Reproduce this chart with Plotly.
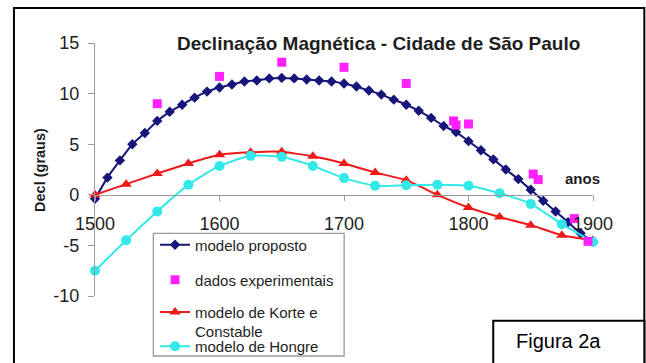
import plotly.graph_objects as go

# ---- data ----
years_model = list(range(1500, 1901, 10))
decl_model = [-0.4, 1.7, 3.4, 5.0, 6.1, 7.3, 8.2, 8.9, 9.6, 10.2,
              10.6, 10.9, 11.2, 11.3, 11.5, 11.55, 11.5, 11.4, 11.3, 11.2,
              11.0, 10.7, 10.3, 9.9, 9.4, 8.9, 8.3, 7.6, 6.8, 6.2,
              5.3, 4.4, 3.5, 2.5, 1.55, 0.5, -0.6, -1.65, -2.7, -3.8, -4.6]

years_exp = [1550, 1600, 1650, 1700, 1750, 1788, 1790, 1800, 1852, 1856, 1885, 1896]
decl_exp = [9.0, 11.7, 13.1, 12.6, 11.0, 7.3, 6.9, 7.0, 2.05, 1.5, -2.35, -4.6]

years_25 = list(range(1500, 1901, 25))
decl_korte = [0.0, 1.05, 2.1, 3.1, 3.95, 4.2, 4.25, 3.8, 3.1, 2.2, 1.45, 0.0,
              -1.25, -2.2, -3.0, -4.0, -4.5]
decl_hongre = [-7.5, -4.5, -1.65, 1.0, 2.85, 3.85, 3.75, 2.85, 1.65, 0.9, 0.95,
               1.0, 0.9, 0.15, -0.9, -2.9, -4.65]

x_ticks = [1500, 1600, 1700, 1800, 1900]
y_ticks = [-10, -5, 0, 5, 10, 15]
y_ticktext = ["-10", "-5", "0", "5", "10", "15"]

FONT = "Liberation Sans, Arial, sans-serif"
TXT = "#1e1e1e"

W, H = 646, 363
# plot area in page pixels
L, R, T, B = 95, 592.7, 43, 296
def px(x):
    return (x - L) / (R - L)
def py(y):
    return (B - y) / (B - T)

fig = go.Figure()
fig.add_trace(go.Scatter(x=years_model, y=decl_model, mode="lines+markers",
                         name="modelo proposto", legend="legend",
                         line=dict(color="#15157a", width=2, shape="spline", smoothing=0.5),
                         marker=dict(symbol="diamond", size=8, color="#15157a"),
                         cliponaxis=False))
fig.add_trace(go.Scatter(x=years_25, y=decl_korte, mode="lines+markers",
                         name="modelo de Korte e<br>Constable", legend="legend3",
                         line=dict(color="#ee1a1a", width=2, shape="spline", smoothing=0.4),
                         marker=dict(symbol="triangle-up", size=10, color="#ee1a1a"),
                         cliponaxis=False))
fig.add_trace(go.Scatter(x=years_25, y=decl_hongre, mode="lines+markers",
                         name="modelo de Hongre", legend="legend4",
                         line=dict(color="#33e8e8", width=2, shape="spline", smoothing=0.6),
                         marker=dict(symbol="circle", size=10, color="#33e8e8"),
                         cliponaxis=False))
fig.add_trace(go.Scatter(x=years_exp, y=decl_exp, mode="markers",
                         name="dados experimentais", legend="legend2",
                         marker=dict(symbol="square", size=9, color="#ff22ff"),
                         cliponaxis=False))

leg_common = dict(xanchor="left", yanchor="middle", bgcolor="rgba(0,0,0,0)",
                  font=dict(family=FONT, size=15, color=TXT), borderwidth=0,
                  itemwidth=30)
lx = px(155)
fig.update_layout(
    legend=dict(x=lx, y=py(245), **leg_common),
    legend2=dict(x=lx, y=py(280), **leg_common),
    legend3=dict(x=lx, y=py(321.7), valign="top", **leg_common),
    legend4=dict(x=lx, y=py(346.5), **leg_common),
)

fig.update_xaxes(range=[1500, 1900], tickvals=x_ticks, anchor="free", position=0.4,
                 showline=True, linecolor="#9a9a9a", linewidth=1.3,
                 ticks="outside", ticklen=5, tickcolor="#9a9a9a",
                 tickfont=dict(family=FONT, size=18, color=TXT),
                 ticklabelstandoff=7, showgrid=False, zeroline=False)
fig.update_yaxes(range=[-10, 15], tickvals=y_ticks, ticktext=y_ticktext,
                 showline=True, linecolor="#9a9a9a", linewidth=1.3,
                 ticks="outside", ticklen=6, tickcolor="#9a9a9a",
                 tickfont=dict(family=FONT, size=18, color=TXT),
                 ticklabelstandoff=5, showgrid=False, zeroline=False)

RIGHT = 644
shapes = [
    # outer frame
    dict(type="rect", xref="paper", yref="paper", x0=px(14), x1=px(RIGHT),
         y0=py(380), y1=py(8), line=dict(color="black", width=2), layer="below"),
    # legend box
    dict(type="rect", xref="paper", yref="paper", x0=px(153.3), x1=px(344),
         y0=py(356), y1=py(233.3), line=dict(color="#9a9a9a", width=1.3),
         fillcolor="white", layer="below"),
    # Figura box
    dict(type="rect", xref="paper", yref="paper", x0=px(493), x1=px(RIGHT),
         y0=py(380), y1=py(320.7), line=dict(color="black", width=2),
         fillcolor="white", layer="above"),
]

annotations = [
    dict(text="<b>Declinação Magnética - Cidade de São Paulo</b>", x=px(378), y=py(44),
         xref="paper", yref="paper", showarrow=False, xanchor="center", yanchor="middle",
         font=dict(family=FONT, size=19, color=TXT)),
    dict(text="<b>Decl (graus)</b>", x=px(40), y=py(170), xref="paper", yref="paper",
         showarrow=False, textangle=-90, xanchor="center", yanchor="middle",
         font=dict(family=FONT, size=14.5, color=TXT)),
    dict(text="<b>anos</b>", x=px(582), y=py(178), xref="paper", yref="paper",
         showarrow=False, xanchor="center", yanchor="middle",
         font=dict(family=FONT, size=15, color=TXT)),
    dict(text="Figura 2a", x=px(558), y=py(341), xref="paper", yref="paper",
         showarrow=False, xanchor="center", yanchor="middle",
         font=dict(family=FONT, size=20, color="black")),
]

fig.update_layout(width=W, height=H, autosize=False,
                  margin=dict(l=L, r=W - R, t=T, b=H - B, pad=0, autoexpand=False),
                  paper_bgcolor="white", plot_bgcolor="white",
                  shapes=shapes, annotations=annotations, showlegend=True)

fig.write_html("out.html", config={"displayModeBar": False},
               post_script="document.body.style.margin='0px';"
                           "document.documentElement.style.overflow='hidden';")
